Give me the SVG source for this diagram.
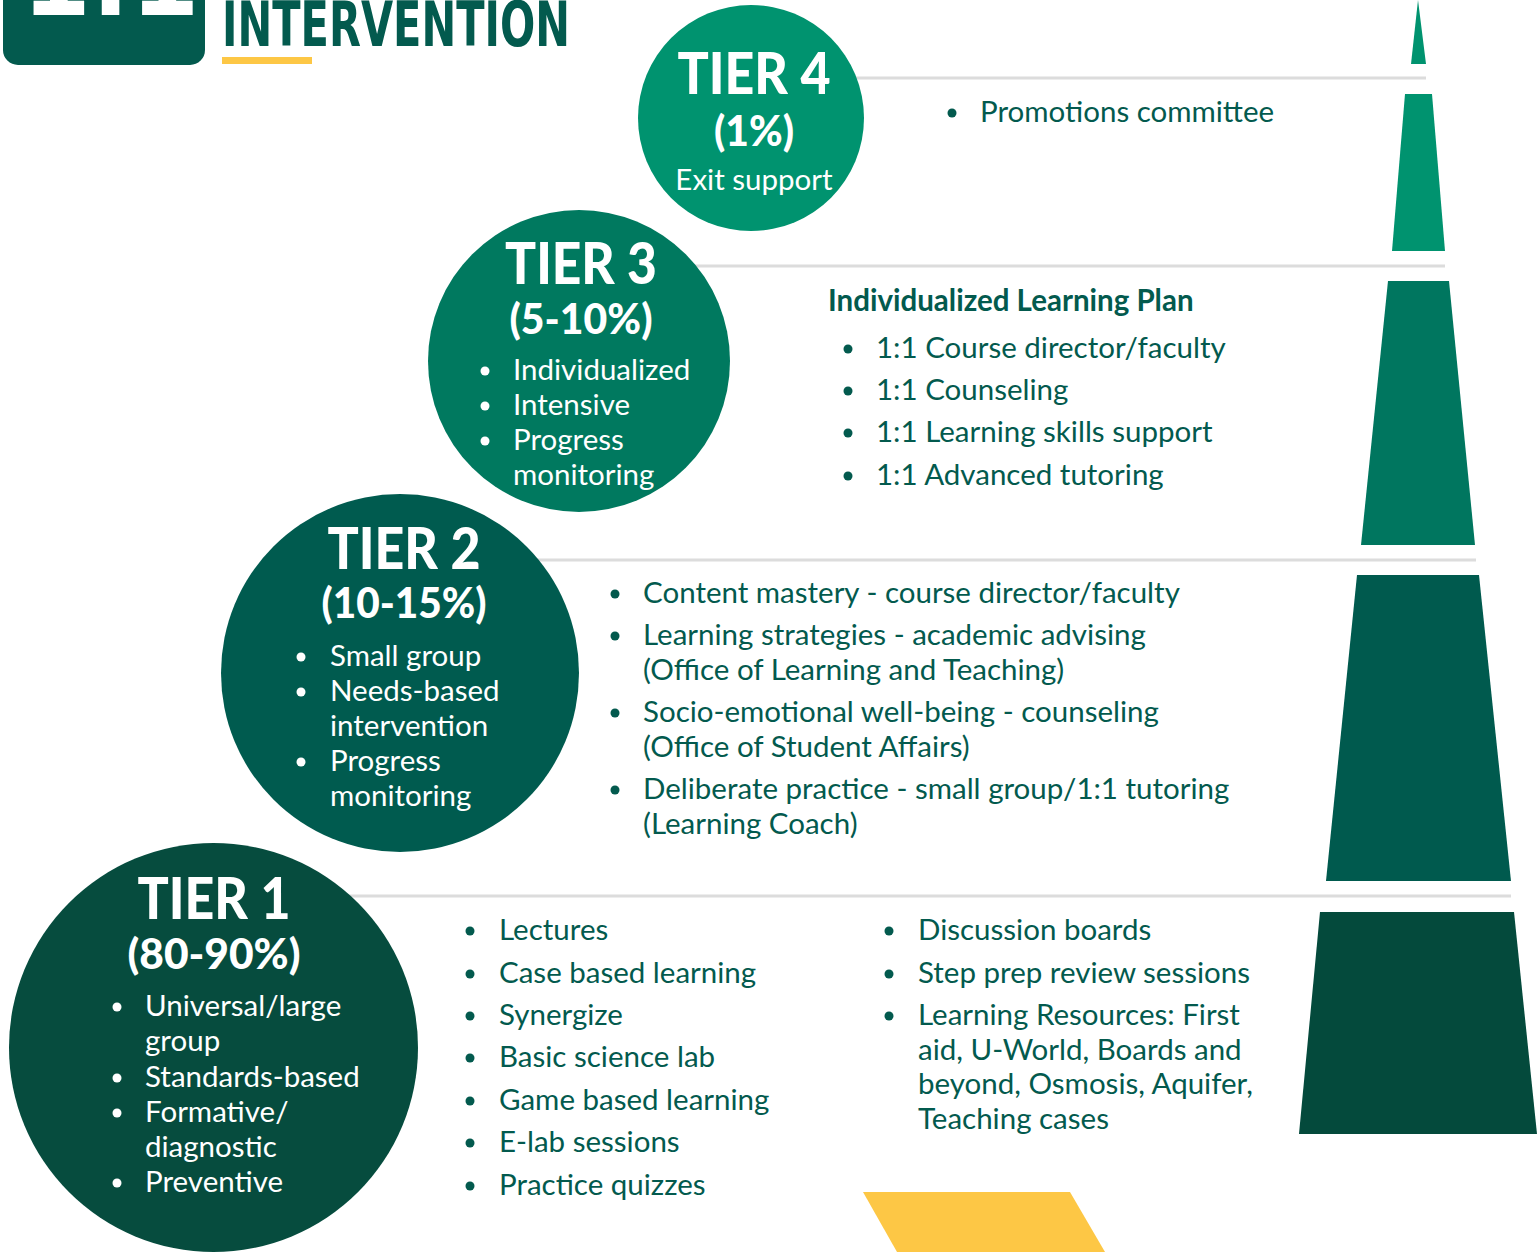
<svg xmlns="http://www.w3.org/2000/svg" width="1538" height="1252" viewBox="0 0 1538 1252">
<style>
.hd{font-family:"Liberation Sans Narrow","DejaVu Sans Condensed","Liberation Sans",sans-serif;font-weight:bold;fill:#035A4E}
.tt{font-family:Lato,"Noto Sans",sans-serif;font-weight:900;fill:#fff;text-anchor:middle}
.tw{font-family:Lato,"Noto Sans",sans-serif;fill:#fff;font-size:29.5px}
.tg{font-family:Lato,"Noto Sans",sans-serif;fill:#035A4E;font-size:29.5px}
.bw{fill:#fff}
.bg{fill:#035A4E}
.ln{stroke:#DCDCDC;stroke-width:3;fill:none}
</style>
<rect width="1538" height="1252" fill="#fff"/>
<g id="header">
<rect x="3" y="-30" width="202" height="95" rx="15" fill="#035A4E"/>
<text x="22" y="15" style="font-family:'Liberation Sans Narrow','DejaVu Sans Condensed',sans-serif;font-weight:bold;font-size:110px;fill:#fff">1:12</text>
<text class="hd" x="222" y="46" font-size="62" textLength="348" lengthAdjust="spacingAndGlyphs">INTERVENTION</text>
<rect x="222" y="57" width="90" height="7" fill="#FDC745"/>
</g>
<g id="connectors">
<line class="ln" x1="751" y1="78" x2="1426" y2="78"/>
<line class="ln" x1="579" y1="266" x2="1445" y2="266"/>
<line class="ln" x1="400" y1="560" x2="1476" y2="560"/>
<line class="ln" x1="213" y1="896" x2="1511" y2="896"/>
</g>
<g id="pyramid">
<polygon points="1418,0 1426,64 1411,64" fill="#00936F"/>
<polygon points="1405,94 1432,94 1445,251 1392,251" fill="#00936F"/>
<polygon points="1388,281 1449,281 1475,545 1361,545" fill="#00765F"/>
<polygon points="1357,575 1479,575 1511,881 1326,881" fill="#005A4E"/>
<polygon points="1320,912 1514,912 1537,1134 1299,1134" fill="#044A3C"/>
</g>
<polygon id="accent" points="863,1192 1070,1192 1105,1252 897,1252" fill="#FDC745"/>
<g id="tier4">
<circle cx="751" cy="118" r="113" fill="#00936F"/>
<text class="tt" x="754" y="94" font-size="58" textLength="153" lengthAdjust="spacingAndGlyphs">TIER 4</text>
<text class="tt" x="754" y="146" font-size="42" textLength="80" lengthAdjust="spacingAndGlyphs">(1%)</text>
<text class="tw" x="754" y="190" text-anchor="middle">Exit support</text>
</g>
<g id="tier4-list">
<circle class="bg" cx="952" cy="113" r="4.5"/>
<text class="tg" x="980" y="122">Promotions committee</text>
</g>
<g id="tier3">
<circle cx="579" cy="361" r="151" fill="#00795F"/>
<text class="tt" x="581" y="284" font-size="58" textLength="152" lengthAdjust="spacingAndGlyphs">TIER 3</text>
<text class="tt" x="581" y="334" font-size="42" textLength="143" lengthAdjust="spacingAndGlyphs">(5-10%)</text>
<circle class="bw" cx="485" cy="371" r="4.5"/>
<circle class="bw" cx="485" cy="406" r="4.5"/>
<circle class="bw" cx="485" cy="441" r="4.5"/>
<text class="tw" x="513" y="380">Individualized</text>
<text class="tw" x="513" y="415">Intensive</text>
<text class="tw" x="513" y="450">Progress</text>
<text class="tw" x="513" y="485">monitoring</text>
</g>
<g id="tier3-list">
<text class="tg" x="828" y="311" font-weight="bold">Individualized Learning Plan</text>
<circle class="bg" cx="848" cy="349" r="4.5"/>
<circle class="bg" cx="848" cy="391" r="4.5"/>
<circle class="bg" cx="848" cy="433" r="4.5"/>
<circle class="bg" cx="848" cy="476" r="4.5"/>
<text class="tg" x="876" y="358">1:1 Course director/faculty</text>
<text class="tg" x="876" y="400">1:1 Counseling</text>
<text class="tg" x="876" y="442">1:1 Learning skills support</text>
<text class="tg" x="876" y="485">1:1 Advanced tutoring</text>
</g>
<g id="tier2">
<circle cx="400" cy="673" r="179" fill="#005B4F"/>
<text class="tt" x="404" y="569" font-size="58" textLength="153" lengthAdjust="spacingAndGlyphs">TIER 2</text>
<text class="tt" x="404" y="618" font-size="42" textLength="165" lengthAdjust="spacingAndGlyphs">(10-15%)</text>
<circle class="bw" cx="301" cy="657" r="4.5"/>
<circle class="bw" cx="301" cy="692" r="4.5"/>
<circle class="bw" cx="301" cy="762" r="4.5"/>
<text class="tw" x="330" y="666">Small group</text>
<text class="tw" x="330" y="701">Needs-based</text>
<text class="tw" x="330" y="736">intervention</text>
<text class="tw" x="330" y="771">Progress</text>
<text class="tw" x="330" y="806">monitoring</text>
</g>
<g id="tier2-list">
<circle class="bg" cx="615" cy="594" r="4.5"/>
<circle class="bg" cx="615" cy="636" r="4.5"/>
<circle class="bg" cx="615" cy="713" r="4.5"/>
<circle class="bg" cx="615" cy="790" r="4.5"/>
<text class="tg" x="643" y="603">Content mastery - course director/faculty</text>
<text class="tg" x="643" y="645">Learning strategies - academic advising</text>
<text class="tg" x="643" y="680">(Office of Learning and Teaching)</text>
<text class="tg" x="643" y="722">Socio-emotional well-being - counseling</text>
<text class="tg" x="643" y="757">(Office of Student Affairs)</text>
<text class="tg" x="643" y="799">Deliberate practice - small group/1:1 tutoring</text>
<text class="tg" x="643" y="834">(Learning Coach)</text>
</g>
<g id="tier1">
<circle cx="213.5" cy="1047.5" r="204.5" fill="#064C3E"/>
<text class="tt" x="214" y="919" font-size="58" textLength="153" lengthAdjust="spacingAndGlyphs">TIER 1</text>
<text class="tt" x="214" y="969" font-size="42" textLength="173" lengthAdjust="spacingAndGlyphs">(80-90%)</text>
<circle class="bw" cx="117" cy="1007" r="4.5"/>
<circle class="bw" cx="117" cy="1078" r="4.5"/>
<circle class="bw" cx="117" cy="1113" r="4.5"/>
<circle class="bw" cx="117" cy="1183" r="4.5"/>
<text class="tw" x="145" y="1016">Universal/large</text>
<text class="tw" x="145" y="1051">group</text>
<text class="tw" x="145" y="1087">Standards-based</text>
<text class="tw" x="145" y="1122">Formative/</text>
<text class="tw" x="145" y="1157">diagnostic</text>
<text class="tw" x="145" y="1192">Preventive</text>
</g>
<g id="tier1-list">
<circle class="bg" cx="470" cy="931" r="4.5"/>
<circle class="bg" cx="470" cy="974" r="4.5"/>
<circle class="bg" cx="470" cy="1016" r="4.5"/>
<circle class="bg" cx="470" cy="1058" r="4.5"/>
<circle class="bg" cx="470" cy="1101" r="4.5"/>
<circle class="bg" cx="470" cy="1143" r="4.5"/>
<circle class="bg" cx="470" cy="1186" r="4.5"/>
<text class="tg" x="499" y="940">Lectures</text>
<text class="tg" x="499" y="983">Case based learning</text>
<text class="tg" x="499" y="1025">Synergize</text>
<text class="tg" x="499" y="1067">Basic science lab</text>
<text class="tg" x="499" y="1110">Game based learning</text>
<text class="tg" x="499" y="1152">E-lab sessions</text>
<text class="tg" x="499" y="1195">Practice quizzes</text>
<circle class="bg" cx="889" cy="931" r="4.5"/>
<circle class="bg" cx="889" cy="974" r="4.5"/>
<circle class="bg" cx="889" cy="1016" r="4.5"/>
<text class="tg" x="918" y="940">Discussion boards</text>
<text class="tg" x="918" y="983">Step prep review sessions</text>
<text class="tg" x="918" y="1025">Learning Resources: First</text>
<text class="tg" x="918" y="1060">aid, U-World, Boards and</text>
<text class="tg" x="918" y="1094">beyond, Osmosis, Aquifer,</text>
<text class="tg" x="918" y="1129">Teaching cases</text>
</g>
</svg>
